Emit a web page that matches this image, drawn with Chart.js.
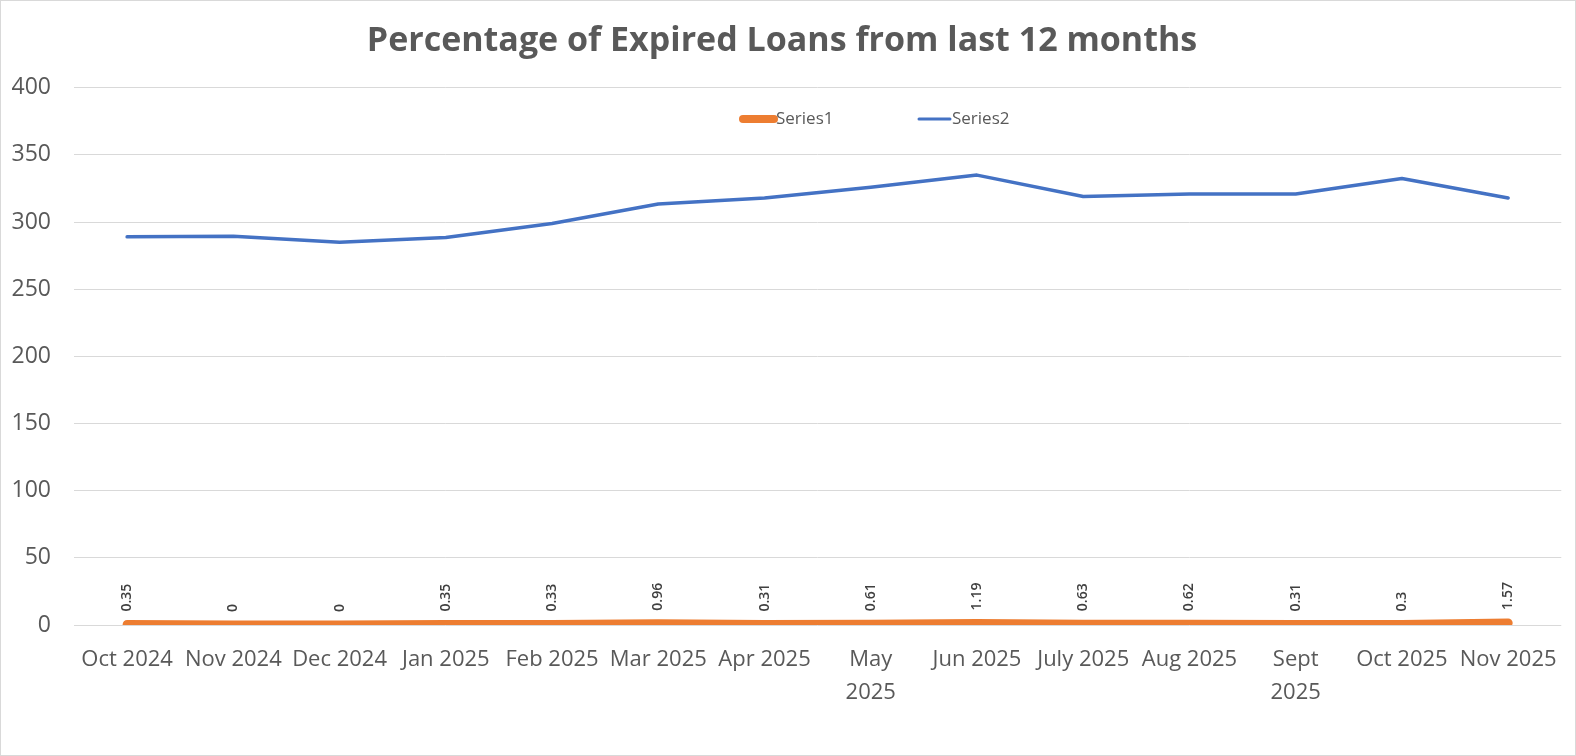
<!DOCTYPE html>
<html lang="en">
<head>
  <meta charset="UTF-8">
  <title>Percentage of Expired Loans from last 12 months</title>
  <script src="https://cdn.jsdelivr.net/npm/chart.js@4.4.1/dist/chart.umd.min.js"></script>
  <style>
    html, body {
      margin: 0;
      padding: 0;
      background: #fff;
    }

    #wrap {
      position: relative;
      width: 1574px;
      height: 754px;
      border: 1px solid #d9d9d9;
    }

    #loansChart {
      display: block;
    }
  </style>
</head>
<body>
<div id="wrap">
  <canvas id="loansChart" width="1574" height="754"></canvas>
</div>

<script>
  // month labels (two of them wrap in the original)
  const months = [
    'Oct 2024', 'Nov 2024', 'Dec 2024', 'Jan 2025', 'Feb 2025', 'Mar 2025', 'Apr 2025',
    ['May', '2025'], 'Jun 2025', 'July 2025', 'Aug 2025', ['Sept', '2025'], 'Oct 2025', 'Nov 2025'
  ];

  // Series1: the labelled percentages
  const series1 = [0.35, 0, 0, 0.35, 0.33, 0.96, 0.31, 0.61, 1.19, 0.63, 0.62, 0.31, 0.3, 1.57];

  // Series2
  const series2 = [289, 289.5, 285, 288.5, 299, 313.5, 318, 326, 335, 319, 321, 321, 332.5, 318];

  const yTicks = [0, 50, 100, 150, 200, 250, 300, 350, 400];

  const textGrey = '#595959';
  const orange = '#ED7D31';
  const blue = '#4472C4';

  // vertical value labels above Series1
  const valueLabels = {
    id: 'valueLabels',
    afterDatasetsDraw(chart) {
      const ctx = chart.ctx;
      const meta = chart.getDatasetMeta(0);
      ctx.save();
      ctx.font = '600 14px "Open Sans", sans-serif';
      ctx.fillStyle = '#404040';
      ctx.textAlign = 'left';
      ctx.textBaseline = 'middle';
      meta.data.forEach((pt, i) => {
        ctx.save();
        ctx.translate(pt.x, pt.y - 13);
        ctx.rotate(-Math.PI / 2);
        ctx.fillText(String(series1[i]), 0, 0);
        ctx.restore();
      });
      ctx.restore();
    }
  };

  // legend sits inside the plot, like the Excel one
  const innerLegend = {
    id: 'innerLegend',
    afterDraw(chart) {
      const ctx = chart.ctx;
      const y = 118;
      const items = [
        {x: 742, w: 31, color: orange, lw: 8, text: 'Series1'},
        {x: 918, w: 31, color: blue, lw: 3, text: 'Series2'}
      ];
      ctx.save();
      ctx.font = '17px "Open Sans", sans-serif';
      ctx.textBaseline = 'middle';
      ctx.textAlign = 'left';
      items.forEach(it => {
        ctx.beginPath();
        ctx.strokeStyle = it.color;
        ctx.lineWidth = it.lw;
        ctx.lineCap = 'round';
        ctx.moveTo(it.x, y);
        ctx.lineTo(it.x + it.w, y);
        ctx.stroke();
        ctx.fillStyle = textGrey;
        ctx.fillText(it.text, it.x + it.w + 2, y);
      });
      ctx.restore();
    }
  };

  const ctx = document.getElementById('loansChart').getContext('2d');
  new Chart(ctx, {
    type: 'line',
    data: {
      labels: months,
      datasets: [
        {
          label: 'Series1',
          data: series1,
          borderColor: orange,
          backgroundColor: orange,
          borderWidth: 9,
          borderCapStyle: 'round',
          borderJoinStyle: 'round',
          pointRadius: 0,
          tension: 0
        },
        {
          label: 'Series2',
          data: series2,
          borderColor: blue,
          backgroundColor: blue,
          borderWidth: 3.5,
          borderCapStyle: 'round',
          borderJoinStyle: 'round',
          pointRadius: 0,
          tension: 0
        }
      ]
    },
    options: {
      responsive: false,
      animation: false,
      layout: {
        padding: {left: 0, right: 12, top: 0, bottom: 0}
      },
      scales: {
        x: {
          offset: true,
          grid: {display: false, drawTicks: false},
          border: {display: false},
          ticks: {
            color: textGrey,
            font: {family: '"Open Sans", sans-serif', size: 22, lineHeight: 1.5},
            padding: 18,
            maxRotation: 0,
            autoSkip: false
          },
          afterFit(scale) {
            scale.height = 130;
          }
        },
        y: {
          min: 0,
          max: 400,
          afterBuildTicks(scale) {
            scale.ticks = yTicks.map(v => ({value: v}));
          },
          grid: {color: '#d9d9d9', lineWidth: 1, drawTicks: false},
          border: {display: false},
          ticks: {
            color: textGrey,
            font: {family: '"Open Sans", sans-serif', size: 23},
            padding: 23
          },
          afterFit(scale) {
            scale.width = 73;
          }
        }
      },
      plugins: {
        legend: {display: false},
        tooltip: {enabled: false},
        title: {
          display: true,
          text: 'Percentage of Expired Loans from last 12 months',
          color: textGrey,
          font: {family: '"Open Sans", sans-serif', size: 34, weight: 'bold', lineHeight: 1.2},
          padding: {top: 20, bottom: 26}
        }
      }
    },
    plugins: [valueLabels, innerLegend]
  });
</script>
</body>
</html>
